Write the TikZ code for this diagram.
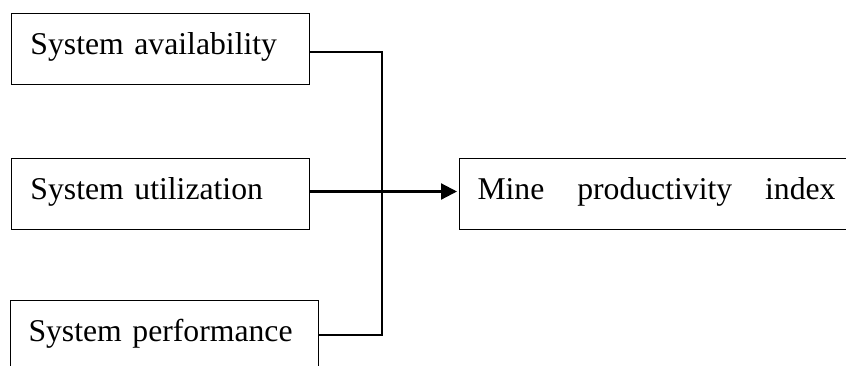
\documentclass[tikz,border=0pt]{standalone}
\usepackage{fontspec}
\setmainfont{Liberation Serif}
\usetikzlibrary{arrows.meta}
\begin{document}
\begin{tikzpicture}[x=1pt,y=-1pt,
  box/.style={draw=black,line width=1pt,minimum height=71pt,anchor=north west,
    align=left,inner ysep=0pt,text height=23pt,text depth=13pt,
    font=\fontsize{31.7}{38}\selectfont},
  conn/.style={draw=black,line width=2.2pt}]
\clip (0,0) rectangle (846,365);
\fill[white] (0,0) rectangle (846,365);
\node[box,minimum width=298pt,text width=260pt,inner xsep=19pt] (b1) at (11,13) {System availability};
\node[box,minimum width=298pt,text width=260pt,inner xsep=19pt] (b2) at (11,158) {System utilization};
\node[box,minimum width=308pt,text width=272pt,inner xsep=18pt] (b3) at (10,300) {System performance};
\node[box,minimum width=420pt,text width=384pt,inner xsep=18pt] (out) at (459,158) {\makebox[358pt][l]{Mine\hfill productivity\hfill index}};
\coordinate (jt) at (382,52);
\coordinate (jb) at (382,335);
\draw[conn] (b1.east|-jt) -- (jt) -- (jb) -- (b3.east|-jb);
\draw[conn,-{Triangle[length=16pt,width=16pt]},shorten >=2pt] ([yshift=2.5pt]b2.east) -- ([yshift=2.5pt]out.west);
\end{tikzpicture}
\end{document}
